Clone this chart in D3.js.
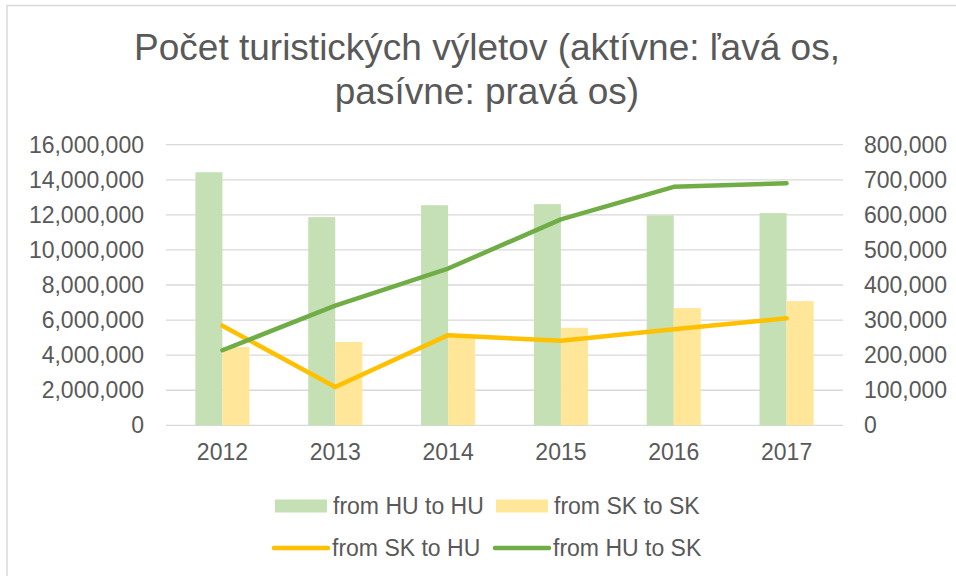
<!DOCTYPE html>
<html>
<head>
<meta charset="utf-8">
<script src="https://cdn.jsdelivr.net/npm/d3@7"></script>
<style>
  html, body { margin: 0; padding: 0; background: #fff; }
  svg { display: block; font-family: "Liberation Sans", Arial, sans-serif; }
</style>
</head>
<body>
<svg id="chart" width="956" height="576"></svg>
<script>
// ---- Data ----
const years = ["2012", "2013", "2014", "2015", "2016", "2017"];
const huToHu = [14430000, 11870000, 12550000, 12610000, 11970000, 12100000];
const skToSk = [4460000, 4750000, 5000000, 5560000, 6680000, 7080000];
const skToHu = [284000, 109000, 257000, 241000, 274000, 305000];
const huToSk = [214000, 341000, 447000, 587000, 680000, 690000];
const leftTicks = [0, 2000000, 4000000, 6000000, 8000000, 10000000, 12000000, 14000000, 16000000];
const rightTicks = [0, 100000, 200000, 300000, 400000, 500000, 600000, 700000, 800000];
const titleLines = ["Počet turistických výletov (aktívne: ľavá os,", "pasívne: pravá os)"];
const barSeries = [
  { name: "from HU to HU", values: huToHu, color: "#C5E0B4" },
  { name: "from SK to SK", values: skToSk, color: "#FFE699" }
];
const lineSeries = [
  { name: "from SK to HU", values: skToHu, color: "#FFC000" },
  { name: "from HU to SK", values: huToSk, color: "#70AD47" }
];

// ---- Layout ----
const svg = d3.select("#chart");
const textColor = "#595959";
const gridColor = "#D9D9D9";
const plot = { left: 166, right: 843, top: 144.7, bottom: 425.3 };
const fs = 23;

// Outer border
svg.append("rect")
  .attr("x", 7).attr("y", 5.5)
  .attr("width", 960).attr("height", 580)
  .attr("fill", "none").attr("stroke", gridColor).attr("stroke-width", 1.5);

// Title
svg.append("g").selectAll("text").data(titleLines).join("text")
  .attr("x", 487).attr("y", (d, i) => 60 + i * 43.5)
  .attr("text-anchor", "middle")
  .attr("font-size", 37)
  .attr("fill", textColor)
  .text(d => d);

// Scales
const x0 = d3.scaleBand().domain(years).range([plot.left, plot.right]).paddingInner(0.521).paddingOuter(0.2605);
const x1 = d3.scaleBand().domain(barSeries.map(s => s.name)).range([0, x0.bandwidth()]);
const yL = d3.scaleLinear().domain([0, 16000000]).range([plot.bottom, plot.top]);
const yR = d3.scaleLinear().domain([0, 800000]).range([plot.bottom, plot.top]);
const fmt = d3.format(",");

// Gridlines
svg.append("g").selectAll("line").data(leftTicks).join("line")
  .attr("x1", plot.left).attr("x2", plot.right)
  .attr("y1", d => yL(d)).attr("y2", d => yL(d))
  .attr("stroke", gridColor).attr("stroke-width", 1.3);

// Left axis
const axL = svg.append("g").attr("transform", `translate(${plot.left},0)`)
  .call(d3.axisLeft(yL).tickValues(leftTicks).tickFormat(fmt).tickSize(0).tickPadding(22));
axL.select(".domain").remove();
axL.selectAll("text").attr("font-size", fs).attr("fill", textColor).attr("font-family", "Liberation Sans, Arial, sans-serif");

// Right axis
const axR = svg.append("g").attr("transform", `translate(${plot.right},0)`)
  .call(d3.axisRight(yR).tickValues(rightTicks).tickFormat(fmt).tickSize(0).tickPadding(21));
axR.select(".domain").remove();
axR.selectAll("text").attr("font-size", fs).attr("fill", textColor).attr("font-family", "Liberation Sans, Arial, sans-serif");

// Bottom axis
const axB = svg.append("g").attr("transform", `translate(0,${plot.bottom})`)
  .call(d3.axisBottom(x0).tickSize(0).tickPadding(18));
axB.select(".domain").remove();
axB.selectAll("text").attr("font-size", fs).attr("fill", textColor).attr("font-family", "Liberation Sans, Arial, sans-serif");

// Bars
barSeries.forEach(s => {
  svg.append("g").selectAll("rect").data(s.values).join("rect")
    .attr("x", (d, i) => x0(years[i]) + x1(s.name))
    .attr("width", x1.bandwidth())
    .attr("y", d => yL(d))
    .attr("height", d => yL(0) - yL(d))
    .attr("fill", s.color);
});

// Lines
const cx = y => x0(y) + x0.bandwidth() / 2;
lineSeries.forEach(s => {
  const line = d3.line().x((d, i) => cx(years[i])).y(d => yR(d));
  svg.append("path").datum(s.values)
    .attr("d", line)
    .attr("fill", "none")
    .attr("stroke", s.color)
    .attr("stroke-width", 4.5)
    .attr("stroke-linecap", "round")
    .attr("stroke-linejoin", "round");
});

// Legend
const legend = svg.append("g");
const legItems = [
  { s: barSeries[0], type: "bar", x: 275, y: 506 },
  { s: barSeries[1], type: "bar", x: 496, y: 506 },
  { s: lineSeries[0], type: "line", x: 274, y: 548 },
  { s: lineSeries[1], type: "line", x: 495, y: 548 }
];
legItems.forEach(it => {
  if (it.type === "bar") {
    legend.append("rect").attr("x", it.x).attr("y", it.y - 6.5)
      .attr("width", 52).attr("height", 13).attr("fill", it.s.color);
  } else {
    legend.append("line").attr("x1", it.x).attr("x2", it.x + 54)
      .attr("y1", it.y).attr("y2", it.y)
      .attr("stroke", it.s.color).attr("stroke-width", 4.5).attr("stroke-linecap", "round");
  }
  legend.append("text").attr("x", it.x + 58).attr("y", it.y)
    .attr("dy", "0.35em").attr("font-size", fs).attr("fill", textColor)
    .text(it.s.name);
});
</script>
</body>
</html>
